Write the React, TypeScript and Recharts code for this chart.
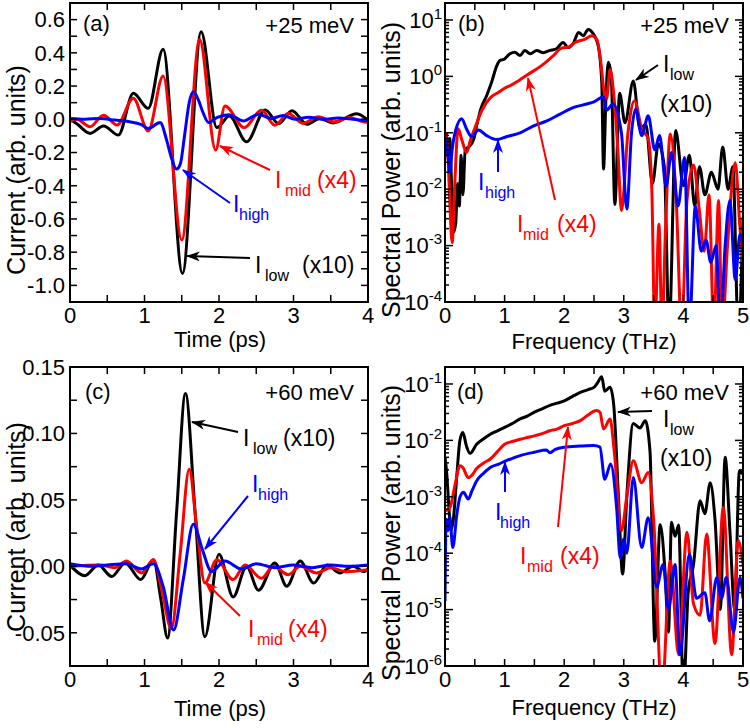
import React from 'react'
import { LineChart, Line, XAxis, YAxis } from 'recharts'

const FONT = '"Liberation Sans", Arial, Helvetica, sans-serif'
const BLACK = '#000000'
const RED = '#ff0000'
const BLUE = '#0000ff'

type Pt = [number, number]

// (a) +25 meV, current vs time (ps)
const aLow: Pt[] = [
  [0, 0.0], [0.1, -0.03], [0.27, -0.085], [0.45, -0.04], [0.65, -0.095], [0.85, 0.156], [1.05, 0.066],
  [1.25, 0.421], [1.51, -0.928], [1.76, 0.527], [1.97, -0.05], [2.14, 0.02], [2.37, -0.136], [2.62, 0.056],
  [2.8, -0.026], [2.98, 0.052], [3.18, -0.03], [3.35, 0.004], [3.53, -0.022], [3.85, 0.034], [4.0, -0.005],
]
const aMid: Pt[] = [
  [0, -0.015], [0.09, 0.0], [0.27, -0.045], [0.45, 0.025], [0.63, -0.035], [0.85, 0.126], [1.05, -0.07],
  [1.25, 0.26], [1.5, -0.727], [1.74, 0.48], [1.955, -0.185], [2.08, 0.08], [2.34, -0.05], [2.57, 0.054],
  [2.75, -0.036], [2.93, 0.035], [3.13, -0.025], [3.33, 0.015], [3.55, -0.015], [3.75, 0.01], [3.9, -0.01], [4.0, -0.02],
]
const aHigh: Pt[] = [
  [0, 0.005], [0.2, 0.0], [0.4, 0.005], [0.6, -0.005], [0.8, -0.015], [0.95, -0.03], [1.05, -0.055],
  [1.21, -0.02], [1.3, -0.13], [1.36, -0.23], [1.43, -0.3], [1.48, -0.27], [1.54, -0.09], [1.6, 0.1],
  [1.655, 0.165], [1.72, 0.12], [1.79, 0.035], [1.86, -0.02], [1.97, 0.01], [2.13, 0.028], [2.33, -0.01],
  [2.53, 0.03], [2.7, 0.005], [2.86, 0.022], [3.02, 0.0], [3.2, 0.012], [3.4, 0.0], [3.6, 0.008], [3.8, 0.0], [4.0, -0.01],
]

// (b) +25 meV, spectral power vs frequency (THz), values are log10
const bLow: Pt[] = [
  [0.02, -1.0], [0.05, -1.4], [0.08, -1.1], [0.11, -1.9], [0.14, -2.77], [0.18, -2.6], [0.21, -1.9], [0.24, -2.3],
  [0.27, -1.4], [0.3, -2.1], [0.34, -1.3], [0.4, -1.25], [0.48, -1.12], [0.53, -0.88], [0.6, -0.58], [0.7, -0.34],
  [0.78, -0.11], [0.87, 0.19], [0.92, 0.28], [1.0, 0.31], [1.09, 0.4], [1.17, 0.43], [1.26, 0.37], [1.34, 0.46],
  [1.43, 0.4], [1.54, 0.46], [1.65, 0.42], [1.76, 0.46], [1.87, 0.49], [1.98, 0.6], [2.07, 0.51], [2.16, 0.6],
  [2.24, 0.78], [2.32, 0.72], [2.4, 0.83], [2.49, 0.75], [2.57, 0.55], [2.63, -0.1], [2.66, -1.64], [2.7, -0.4],
  [2.74, 0.25], [2.79, 0.0], [2.85, -2.27], [2.93, -0.3], [3.02, -0.82], [3.16, -0.08], [3.27, -0.93], [3.37, -0.85],
  [3.48, -1.9], [3.58, -1.2], [3.68, -1.6], [3.76, -4.5], [3.87, -0.96], [4.0, -1.94], [4.1, -1.4], [4.19, -2.3],
  [4.27, -1.6], [4.36, -2.1], [4.47, -1.7], [4.58, -2.0], [4.66, -1.25], [4.75, -2.0], [4.83, -1.6], [4.92, -4.5], [5.0, -2.5],
]
const bMid: Pt[] = [
  [0.02, -1.0], [0.05, -1.4], [0.08, -2.2], [0.12, -2.95], [0.16, -2.0], [0.22, -0.93], [0.29, -1.15], [0.36, -1.35],
  [0.43, -1.12], [0.5, -0.92], [0.62, -0.6], [0.76, -0.38], [0.9, -0.28], [1.0, -0.21], [1.12, -0.15], [1.23, -0.08],
  [1.4, 0.04], [1.62, 0.19], [1.79, 0.34], [1.96, 0.5], [2.07, 0.52], [2.18, 0.6], [2.35, 0.66], [2.46, 0.72],
  [2.55, 0.65], [2.62, 0.2], [2.66, -0.2], [2.71, -0.4], [2.77, 0.12], [2.83, -0.3], [2.9, -1.3], [2.96, -2.38],
  [3.07, -1.0], [3.18, -0.43], [3.3, -0.93], [3.41, -1.11], [3.47, -2.0], [3.52, -4.5], [3.59, -2.62], [3.64, -4.5],
  [3.7, -2.7], [3.78, -1.02], [3.88, -2.2], [3.97, -4.5], [4.06, -2.2], [4.17, -1.57], [4.27, -2.4], [4.35, -3.1],
  [4.43, -2.1], [4.51, -4.5], [4.59, -2.2], [4.65, -4.5], [4.74, -3.0], [4.87, -1.53], [4.95, -2.7], [5.0, -3.3],
]
const bHigh: Pt[] = [
  [0.02, -1.1], [0.05, -1.4], [0.08, -1.7], [0.12, -1.3], [0.18, -0.95], [0.28, -0.75], [0.36, -0.93], [0.45, -1.07],
  [0.56, -0.95], [0.7, -1.05], [0.87, -1.12], [1.03, -1.07], [1.26, -1.0], [1.48, -0.88], [1.71, -0.79], [1.93, -0.67],
  [2.16, -0.55], [2.38, -0.49], [2.5, -0.45], [2.66, -0.36], [2.71, -0.6], [2.82, -0.49], [2.96, -1.0], [3.05, -2.35],
  [3.13, -1.0], [3.2, -0.58], [3.3, -1.05], [3.41, -0.7], [3.52, -1.3], [3.6, -1.05], [3.71, -1.95], [3.8, -1.35],
  [3.91, -2.3], [4.02, -1.44], [4.1, -4.5], [4.2, -2.3], [4.3, -3.1], [4.38, -2.9], [4.46, -3.3], [4.55, -3.0],
  [4.62, -4.5], [4.7, -3.0], [4.78, -2.2], [4.87, -3.6], [4.95, -2.8], [5.0, -3.0],
]

// (c) +60 meV, current vs time (ps)
const cLow: Pt[] = [
  [0, 0.001], [0.2, -0.007], [0.38, 0.001], [0.56, -0.0076], [0.74, 0.0025], [0.95, -0.01], [1.12, 0.005],
  [1.22, -0.025], [1.31, -0.054], [1.43, 0.04], [1.55, 0.13], [1.68, 0.04], [1.81, -0.053], [2.0, 0.009],
  [2.19, -0.023], [2.37, 0.0], [2.53, -0.018], [2.75, 0.0025], [2.91, -0.015], [3.09, 0.004], [3.27, -0.0126],
  [3.45, 0.001], [3.62, -0.005], [3.8, 0.0], [3.95, -0.004], [4.0, -0.002],
]
const cMid: Pt[] = [
  [0, 0.0], [0.4, 0.001], [0.6, -0.001], [0.76, 0.004], [0.96, -0.005], [1.12, 0.005], [1.24, -0.02],
  [1.36, -0.047], [1.48, 0.01], [1.6, 0.073], [1.7, 0.03], [1.81, -0.0126], [1.97, 0.005], [2.19, -0.01],
  [2.35, 0.001], [2.57, -0.009], [2.73, 0.0], [2.93, -0.0063], [3.09, 0.0], [3.31, -0.005], [3.5, -0.001],
  [3.7, -0.004], [4.0, -0.0025],
]
const cHigh: Pt[] = [
  [0, 0.002], [0.3, 0.0], [0.5, 0.001], [0.75, 0.002], [0.96, -0.002], [1.12, 0.002], [1.25, -0.015],
  [1.39, -0.048], [1.52, -0.01], [1.655, 0.0316], [1.78, 0.012], [1.9, -0.004], [2.08, 0.004], [2.3, -0.002],
  [2.5, 0.002], [2.75, -0.001], [3.0, 0.001], [3.25, -0.001], [3.5, 0.001], [3.75, 0.0], [4.0, 0.001],
]

// (d) +60 meV, spectral power vs frequency (THz), values are log10
const dLow: Pt[] = [
  [0.0, -2.3], [0.03, -2.6], [0.06, -3.1], [0.1, -3.6], [0.14, -3.4], [0.2, -2.6], [0.25, -2.0], [0.3, -1.86],
  [0.36, -2.1], [0.42, -2.23], [0.53, -2.07], [0.65, -1.97], [0.76, -1.89], [0.88, -1.83], [1.0, -1.77], [1.13, -1.7],
  [1.26, -1.62], [1.38, -1.57], [1.5, -1.5], [1.63, -1.44], [1.76, -1.38], [1.88, -1.34], [2.0, -1.3], [2.14, -1.22],
  [2.27, -1.15], [2.4, -1.1], [2.5, -1.06], [2.56, -0.98], [2.63, -0.87], [2.68, -1.13], [2.77, -1.06], [2.83, -1.36],
  [2.91, -3.0], [2.98, -4.37], [3.05, -3.0], [3.16, -1.7], [3.27, -1.78], [3.36, -1.65], [3.44, -2.2], [3.52, -5.56],
  [3.61, -3.49], [3.69, -4.3], [3.75, -5.4], [3.8, -3.45], [3.86, -3.7], [3.92, -3.5], [4.0, -6.5], [4.08, -4.7],
  [4.17, -4.2], [4.28, -3.07], [4.36, -3.3], [4.45, -2.75], [4.53, -3.4], [4.62, -5.0], [4.7, -2.3], [4.78, -3.6],
  [4.86, -5.0], [4.94, -2.54], [5.0, -2.6],
]
const dMid: Pt[] = [
  [0.0, -3.25], [0.08, -3.2], [0.17, -2.78], [0.25, -2.45], [0.3, -2.48], [0.39, -2.66], [0.45, -2.62], [0.53, -2.5],
  [0.65, -2.4], [0.76, -2.33], [0.88, -2.2], [1.0, -2.07], [1.13, -2.02], [1.26, -1.98], [1.38, -1.95], [1.5, -1.92],
  [1.63, -1.88], [1.76, -1.83], [1.88, -1.8], [2.0, -1.74], [2.14, -1.7], [2.27, -1.65], [2.4, -1.55], [2.54, -1.47],
  [2.6, -1.5], [2.66, -1.8], [2.77, -1.62], [2.84, -2.2], [2.96, -3.6], [3.05, -3.0], [3.16, -2.36], [3.3, -2.75],
  [3.41, -2.57], [3.5, -3.4], [3.64, -6.5], [3.78, -4.14], [3.92, -5.8], [4.06, -3.63], [4.17, -4.9], [4.28, -5.1],
  [4.39, -3.66], [4.53, -5.6], [4.67, -3.19], [4.81, -5.8], [4.92, -3.78], [5.0, -4.2],
]
const dHigh: Pt[] = [
  [0.0, -4.85], [0.02, -3.4], [0.05, -3.6], [0.08, -3.35], [0.13, -3.9], [0.2, -3.3], [0.25, -3.01], [0.31, -2.92],
  [0.39, -3.04], [0.45, -2.9], [0.53, -2.72], [0.65, -2.58], [0.76, -2.48], [0.9, -2.42], [1.03, -2.36], [1.26, -2.27],
  [1.5, -2.21], [1.7, -2.17], [1.76, -2.22], [1.85, -2.16], [2.0, -2.12], [2.27, -2.1], [2.5, -2.09], [2.6, -2.12],
  [2.68, -2.69], [2.78, -2.42], [2.88, -3.2], [2.94, -4.08], [3.0, -3.75], [3.05, -4.0], [3.16, -2.66], [3.3, -3.9],
  [3.41, -3.37], [3.55, -4.6], [3.66, -4.2], [3.75, -5.0], [3.86, -4.2], [3.94, -5.8], [4.1, -4.02], [4.22, -4.8],
  [4.36, -4.7], [4.44, -5.2], [4.56, -4.43], [4.64, -4.8], [4.72, -4.43], [4.84, -5.4], [4.95, -4.43], [5.0, -4.8],
]

// ticks
const timeTicks = [0, 0.5, 1, 1.5, 2, 2.5, 3, 3.5, 4]
const freqTicks = [0, 0.5, 1, 1.5, 2, 2.5, 3, 3.5, 4, 4.5, 5]
const aYTicks = [-1.1, -1.0, -0.9, -0.8, -0.7, -0.6, -0.5, -0.4, -0.3, -0.2, -0.1, 0, 0.1, 0.2, 0.3, 0.4, 0.5, 0.6, 0.7]
const aYLabels = [-1.0, -0.8, -0.6, -0.4, -0.2, 0, 0.2, 0.4, 0.6]
const cYTicks = [-0.075, -0.05, -0.025, 0, 0.025, 0.05, 0.075, 0.1, 0.125, 0.15]
const cYLabels = [-0.05, 0, 0.05, 0.1, 0.15]
const bDecades = [1e-4, 1e-3, 1e-2, 1e-1, 1, 10]
const dDecades = [1e-6, 1e-5, 1e-4, 1e-3, 1e-2, 1e-1]

const withMinors = (decades: number[], top: number) => {
  const out: number[] = []
  decades.forEach((d) => {
    for (let m = 1; m <= 9; m++) if (d * m <= top * 1.0001) out.push(d * m)
  })
  return out
}
const bYTicks = withMinors(bDecades, 20)
const dYTicks = withMinors(dDecades, 0.2)

const rows = (pts: Pt[]) => pts.map(([x, y]) => ({ x, y }))
const logRows = (pts: Pt[]) => pts.map(([x, e]) => ({ x, y: Math.pow(10, e) }))

const CHART_W = 375
const M_RIGHT = 7
const PLOT_W = 298
const PLOT_H = 299
const TICK_FS = 22
const frameLine = { stroke: BLACK, strokeWidth: 2 }
const near = (list: number[], v: number) => list.some((l) => Math.abs(l - v) <= 1e-6 * Math.max(Math.abs(l), 1e-12))

type TickOpts = {
  side: 'bottom' | 'left'
  gap: number
  len: (v: number) => number
  label: (v: number) => React.ReactNode
}

// inward tick marks plus the label
function makeTick(o: TickOpts) {
  return (props: any) => {
    const { x, y, payload } = props
    const v = payload.value as number
    const L = o.len(v)
    const lab = o.label(v)
    const line = { stroke: BLACK, strokeWidth: 1.5 }
    const show = lab !== null && lab !== ''
    if (o.side === 'bottom') {
      const y0 = y - o.gap
      return (
        <g>
          <line x1={x} y1={y0} x2={x} y2={y0 - L} {...line} />
          {show && (
            <text x={x} y={y} dy="0.71em" textAnchor="middle" fill={BLACK} fontFamily={FONT} fontSize={TICK_FS}>{lab}</text>
          )}
        </g>
      )
    }
    const x0 = x + o.gap
    return (
      <g>
        <line x1={x0} y1={y} x2={x0 + L} y2={y} {...line} />
        {show && (
          <text x={x} y={y} dy="0.355em" textAnchor="end" fill={BLACK} fontFamily={FONT} fontSize={TICK_FS}>{lab}</text>
        )}
      </g>
    )
  }
}

const powLabel = (v: number) => {
  const e = Math.round(Math.log10(v))
  return (
    <>
      10<tspan dy={-9} fontSize={15}>{e}</tspan>
    </>
  )
}

type PanelProps = {
  left: number
  top: number
  height: number
  mTop: number
  xDomain: [number, number]
  xTicks: number[]
  yDomain: [number, number]
  yTicks: number[]
  yMajor: number[]
  log?: boolean
  yFmt: (v: number) => React.ReactNode
  series: { data: { x: number; y: number }[]; color: string }[]
}

function Panel(p: PanelProps) {
  const scale = p.log ? 'log' : 'linear'
  const xLen = () => 7
  const yLen = (v: number) => (p.log ? (near(p.yMajor, v) ? 8 : 4) : 7)
  const xLab = (v: number) => (Number.isInteger(v) ? String(v) : '')
  const yLab = (v: number) => (near(p.yMajor, v) ? p.yFmt(v) : '')
  const yGap = p.log ? 3 : 5
  return (
    <div style={{ position: 'absolute', left: p.left, top: p.top }}>
      <LineChart width={CHART_W} height={p.height} margin={{ top: p.mTop, right: M_RIGHT, bottom: 0, left: 0 }}>
        <XAxis xAxisId="b" type="number" dataKey="x" domain={p.xDomain} ticks={p.xTicks} interval={0}
          allowDataOverflow height={62} tickSize={0} tickMargin={5} axisLine={frameLine} tickLine={false}
          tick={makeTick({ side: 'bottom', gap: 5, len: xLen, label: xLab })} />
        <YAxis yAxisId="l" type="number" scale={scale} domain={p.yDomain} ticks={p.yTicks} interval={0}
          allowDataOverflow width={70} tickSize={0} tickMargin={yGap} axisLine={frameLine} tickLine={false}
          tick={makeTick({ side: 'left', gap: yGap, len: yLen, label: yLab })} />
        {p.series.map((s, i) => (
          <Line key={i} xAxisId="b" yAxisId="l" data={s.data} dataKey="y" type="monotone" stroke={s.color}
            strokeWidth={3} dot={false} activeDot={false} isAnimationActive={false} />
        ))}
      </LineChart>
    </div>
  )
}

const fmtA = (v: number) => v.toFixed(1)
const fmtC = (v: number) => v.toFixed(2)

// full frame box of each panel with the inward ticks on its top and right edges
function FrameEdges(props: { x0: number; y0: number; xMax: number; xTicks: number[]; yTicks: number[];
  yMajor: number[]; yDomain: [number, number]; log?: boolean }) {
  const { x0, y0, xMax, xTicks, yTicks, yMajor, yDomain, log } = props
  const xr = x0 + PLOT_W
  const f = (v: number) => (log ? Math.log10(v) : v)
  const ypx = (v: number) => y0 + ((f(yDomain[1]) - f(v)) / (f(yDomain[1]) - f(yDomain[0]))) * PLOT_H
  const t = { stroke: BLACK, strokeWidth: 1.5 }
  return (
    <g>
      <rect x={x0} y={y0} width={PLOT_W} height={PLOT_H} fill="none" stroke={BLACK} strokeWidth={2} />
      {xTicks.map((v) => {
        const x = x0 + (v / xMax) * PLOT_W
        return <line key={`x${v}`} x1={x} y1={y0} x2={x} y2={y0 + 7} {...t} />
      })}
      {yTicks.map((v) => {
        const y = ypx(v)
        const L = log ? (near(yMajor, v) ? 8 : 4) : 7
        return <line key={`y${v}`} x1={xr} y1={y} x2={xr - L} y2={y} {...t} />
      })}
    </g>
  )
}

function ILabel(props: { x: number; y: number; sub: string; subX: number; tail?: string; tailX?: number; color: string }) {
  const { x, y, sub, subX, tail, tailX, color } = props
  return (
    <text fill={color} fontFamily={FONT} fontSize={23}>
      <tspan x={x} y={y}>I</tspan>
      <tspan x={subX} y={y + 8} fontSize={16}>{sub}</tspan>
      {tail ? <tspan x={tailX} y={y}>{tail}</tspan> : null}
    </text>
  )
}

function Arrow(props: { x1: number; y1: number; x2: number; y2: number; c: string }) {
  const { x1, y1, x2, y2, c } = props
  return <line x1={x1} y1={y1} x2={x2} y2={y2} stroke={c === 'k' ? BLACK : c === 'r' ? RED : BLUE}
    strokeWidth={2} markerEnd={`url(#ah-${c})`} />
}

function Overlay() {
  const txt = { fontFamily: FONT, fill: BLACK }
  return (
    <svg width={750} height={728} style={{ position: 'absolute', left: 0, top: 0, pointerEvents: 'none' }}>
      <defs>
        {[['k', BLACK], ['r', RED], ['b', BLUE]].map(([id, c]) => (
          <marker key={id} id={`ah-${id}`} markerWidth={14} markerHeight={10} refX={13} refY={5}
            orient="auto" markerUnits="userSpaceOnUse">
            <path d="M0,0 L14,5 L0,10 L4,5 z" fill={c} />
          </marker>
        ))}
      </defs>

      <FrameEdges x0={70} y0={3} xMax={4} xTicks={timeTicks} yTicks={aYTicks} yMajor={aYLabels} yDomain={[-1.1, 0.7]} />
      <FrameEdges x0={445} y0={3} xMax={5} xTicks={freqTicks} yTicks={bYTicks} yMajor={bDecades} yDomain={[1e-4, 20]} log />
      <FrameEdges x0={70} y0={367} xMax={4} xTicks={timeTicks} yTicks={cYTicks} yMajor={cYLabels} yDomain={[-0.075, 0.15]} />
      <FrameEdges x0={445} y0={367} xMax={5} xTicks={freqTicks} yTicks={dYTicks} yMajor={dDecades} yDomain={[1e-6, 0.2]} log />

      {/* axis titles */}
      <text {...txt} fontSize={25} textAnchor="middle" transform="rotate(-90)" x={-170} y={25}>Current (arb. units)</text>
      <text {...txt} fontSize={25} textAnchor="middle" transform="rotate(-90)" x={-170} y={400}>Spectral Power (arb. units)</text>
      <text {...txt} fontSize={25} textAnchor="middle" transform="rotate(-90)" x={-527} y={25}>Current (arb. units)</text>
      <text {...txt} fontSize={25} textAnchor="middle" transform="rotate(-90)" x={-533} y={400}>Spectral Power (arb. units)</text>
      <text {...txt} fontSize={22} textAnchor="middle" x={220} y={347}>Time (ps)</text>
      <text {...txt} fontSize={22} textAnchor="middle" x={594} y={349}>Frequency (THz)</text>
      <text {...txt} fontSize={22} textAnchor="middle" x={220} y={716}>Time (ps)</text>
      <text {...txt} fontSize={22} textAnchor="middle" x={594} y={715}>Frequency (THz)</text>

      {/* panel tags */}
      <text {...txt} fontSize={22} x={83} y={31}>(a)</text>
      <text {...txt} fontSize={22} x={458} y={31}>(b)</text>
      <text {...txt} fontSize={22} x={85} y={399}>(c)</text>
      <text {...txt} fontSize={22} x={457} y={399}>(d)</text>
      <text {...txt} fontSize={22} textAnchor="end" x={354} y={33}>+25 meV</text>
      <text {...txt} fontSize={22} textAnchor="end" x={729} y={33}>+25 meV</text>
      <text {...txt} fontSize={22} textAnchor="end" x={354} y={400}>+60 meV</text>
      <text {...txt} fontSize={22} textAnchor="end" x={729} y={400}>+60 meV</text>

      {/* (a) */}
      <Arrow x1={250} y1={258} x2={187} y2={256} c="k" />
      <Arrow x1={270} y1={170} x2={220} y2={146} c="r" />
      <Arrow x1={230} y1={203} x2={183} y2={170} c="b" />
      <ILabel x={255} y={273} sub="low" subX={265} tail="(x10)" tailX={302} color={BLACK} />
      <ILabel x={275} y={188} sub="mid" subX={285} tail="(x4)" tailX={317} color={RED} />
      <ILabel x={233} y={212} sub="high" subX={239} color={BLUE} />

      {/* (b) */}
      <Arrow x1={658} y1={65} x2={636} y2={80} c="k" />
      <Arrow x1={498} y1={172} x2={498} y2={140} c="b" />
      <Arrow x1={555} y1={200} x2={528} y2={78} c="r" />
      <ILabel x={663} y={72} sub="low" subX={670} color={BLACK} />
      <text {...txt} fontSize={23} x={660} y={112}>(x10)</text>
      <ILabel x={478} y={190} sub="high" subX={485} color={BLUE} />
      <ILabel x={517} y={232} sub="mid" subX={523} tail="(x4)" tailX={557} color={RED} />

      {/* (c) */}
      <Arrow x1={238} y1={432} x2={192} y2={422} c="k" />
      <Arrow x1={248} y1={496} x2={205} y2={549} c="b" />
      <Arrow x1={240} y1={616} x2={205} y2={582} c="r" />
      <ILabel x={243} y={446} sub="low" subX={253} tail="(x10)" tailX={283} color={BLACK} />
      <ILabel x={252} y={492} sub="high" subX={258} color={BLUE} />
      <ILabel x={248} y={637} sub="mid" subX={257} tail="(x4)" tailX={288} color={RED} />

      {/* (d) */}
      <Arrow x1={652} y1={411} x2={618} y2={412} c="k" />
      <Arrow x1={505} y1={492} x2={505} y2={462} c="b" />
      <Arrow x1={558} y1={527} x2={568} y2={427} c="r" />
      <ILabel x={663} y={427} sub="low" subX={670} color={BLACK} />
      <text {...txt} fontSize={23} x={660} y={466}>(x10)</text>
      <ILabel x={495} y={520} sub="high" subX={500} color={BLUE} />
      <ILabel x={520} y={564} sub="mid" subX={527} tail="(x4)" tailX={560} color={RED} />
    </svg>
  )
}

export default function App() {
  return (
    <div style={{ position: 'absolute', left: 0, top: 0, width: 750, height: 728, background: '#fff' }}>
      <Panel left={0} top={0} height={364} mTop={3} xDomain={[0, 4]} xTicks={timeTicks} yDomain={[-1.1, 0.7]}
        yTicks={aYTicks} yMajor={aYLabels} yFmt={fmtA}
        series={[{ data: rows(aLow), color: BLACK }, { data: rows(aMid), color: RED }, { data: rows(aHigh), color: BLUE }]} />
      <Panel left={375} top={0} height={364} mTop={3} xDomain={[0, 5]} xTicks={freqTicks} yDomain={[1e-4, 20]}
        yTicks={bYTicks} yMajor={bDecades} log yFmt={powLabel}
        series={[{ data: logRows(bLow), color: BLACK }, { data: logRows(bMid), color: RED }, { data: logRows(bHigh), color: BLUE }]} />
      <Panel left={0} top={350} height={378} mTop={17} xDomain={[0, 4]} xTicks={timeTicks} yDomain={[-0.075, 0.15]}
        yTicks={cYTicks} yMajor={cYLabels} yFmt={fmtC}
        series={[{ data: rows(cLow), color: BLACK }, { data: rows(cMid), color: RED }, { data: rows(cHigh), color: BLUE }]} />
      <Panel left={375} top={350} height={378} mTop={17} xDomain={[0, 5]} xTicks={freqTicks} yDomain={[1e-6, 0.2]}
        yTicks={dYTicks} yMajor={dDecades} log yFmt={powLabel}
        series={[{ data: logRows(dLow), color: BLACK }, { data: logRows(dMid), color: RED }, { data: logRows(dHigh), color: BLUE }]} />
      <Overlay />
    </div>
  )
}
